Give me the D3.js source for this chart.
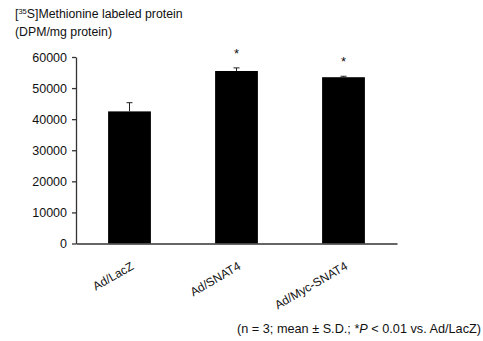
<!DOCTYPE html>
<html>
<head>
<meta charset="utf-8">
<script src="https://cdn.jsdelivr.net/npm/d3@7"></script>
<style>
  body { margin: 0; background: #fff; }
  text { font-family: "Liberation Sans", Arial, sans-serif; fill: #111; }
</style>
</head>
<body>
<div id="chart"></div>
<script>
var groups = ["Ad/LacZ", "Ad/SNAT4", "Ad/Myc-SNAT4"];
var means = [42500, 55500, 53500];
var sds = [2800, 1000, 300];
var significant = [false, true, true];
var yTicks = [0, 10000, 20000, 30000, 40000, 50000, 60000];

var width = 483, height = 341;

var svg = d3.select("#chart").append("svg")
    .attr("width", width)
    .attr("height", height);

var x = d3.scaleBand()
    .domain(groups)
    .range([76, 397])
    .paddingInner(0.6)
    .paddingOuter(0.3);

var y = d3.scaleLinear()
    .domain([0, 60000])
    .range([243.5, 57]);

// bars
svg.selectAll(".bar")
    .data(groups)
    .enter().append("rect")
    .attr("class", "bar")
    .attr("x", function(d) { return x(d); })
    .attr("y", function(d, i) { return y(means[i]); })
    .attr("width", x.bandwidth())
    .attr("height", function(d, i) { return y(0) - y(means[i]); })
    .attr("fill", "#000");

// error bars (upper only)
var err = svg.selectAll(".err")
    .data(groups)
    .enter().append("g")
    .attr("class", "err")
    .attr("stroke", "#222")
    .attr("stroke-width", 1);
err.append("line")
    .attr("x1", function(d) { return x(d) + x.bandwidth() / 2; })
    .attr("x2", function(d) { return x(d) + x.bandwidth() / 2; })
    .attr("y1", function(d, i) { return y(means[i]); })
    .attr("y2", function(d, i) { return y(means[i] + sds[i]); });
err.append("line")
    .attr("x1", function(d) { return x(d) + x.bandwidth() / 2 - 3; })
    .attr("x2", function(d) { return x(d) + x.bandwidth() / 2 + 3; })
    .attr("y1", function(d, i) { return y(means[i] + sds[i]); })
    .attr("y2", function(d, i) { return y(means[i] + sds[i]); });

// significance stars
svg.selectAll(".star")
    .data(groups.filter(function(d, i) { return significant[i]; }))
    .enter().append("text")
    .attr("class", "star")
    .attr("x", function(d) { return x(d) + x.bandwidth() / 2; })
    .attr("y", function(d) {
      var i = groups.indexOf(d);
      return y(means[i] + sds[i]) - 10;
    })
    .attr("text-anchor", "middle")
    .style("font-size", "13px")
    .text("*");

// y axis
var yAxis = svg.append("g")
    .attr("transform", "translate(76,0)")
    .call(d3.axisLeft(y).tickValues(yTicks).tickSize(4).tickSizeOuter(0).tickFormat(d3.format("d")));
yAxis.select(".domain").attr("stroke", "#333").attr("stroke-width", 1.3);
yAxis.selectAll(".tick line").attr("stroke", "#333").attr("stroke-width", 1.3);
yAxis.selectAll(".tick text")
    .attr("x", -9)
    .style("font-size", "12.5px")
    .style("font-family", "'Liberation Sans', Arial, sans-serif")
    .attr("fill", "#111");

// x axis
var xAxis = svg.append("g")
    .attr("transform", "translate(0," + y(0) + ")")
    .call(d3.axisBottom(x).tickSize(0).tickSizeOuter(0));
xAxis.select(".domain").attr("stroke", "#333").attr("stroke-width", 1.3);
xAxis.selectAll(".tick text")
    .attr("text-anchor", "end")
    .attr("dy", 0)
    .attr("y", 0)
    .attr("transform", "translate(5,25) rotate(-30)")
    .style("font-size", "12px")
    .style("font-family", "'Liberation Sans', Arial, sans-serif")
    .attr("fill", "#111");

// y title
var title = svg.append("text")
    .attr("x", 15)
    .attr("y", 18)
    .style("font-size", "12.3px");
title.append("tspan").text("[");
title.append("tspan").attr("dy", -4).style("font-size", "7.5px").text("35");
title.append("tspan").attr("dy", 4).text("S]Methionine labeled protein");
svg.append("text")
    .attr("x", 15)
    .attr("y", 36)
    .style("font-size", "12.3px")
    .text("(DPM/mg protein)");

// footnote
var note = svg.append("text")
    .attr("x", 481)
    .attr("y", 333)
    .attr("text-anchor", "end")
    .style("font-size", "12.7px");
note.append("tspan").text("(n = 3; mean \u00b1 S.D.; *");
note.append("tspan").style("font-style", "italic").text("P");
note.append("tspan").text(" < 0.01 vs. Ad/LacZ)");
</script>
</body>
</html>
